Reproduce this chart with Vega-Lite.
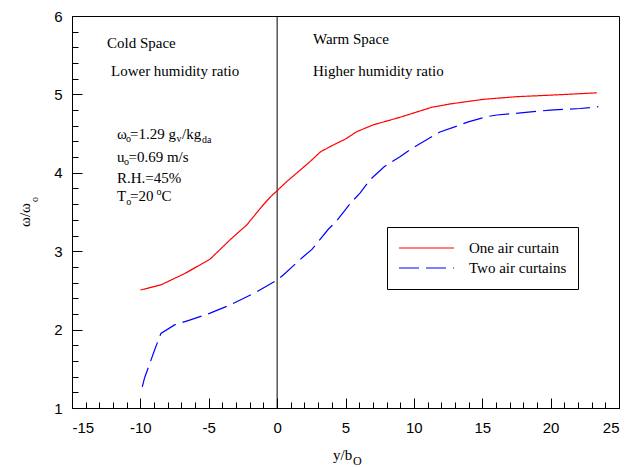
{
  "$schema": "https://vega.github.io/schema/vega-lite/v6.json",
  "width": 547,
  "height": 392,
  "autosize": {"type": "none"},
  "padding": {"left": 72, "top": 16, "right": 14, "bottom": 60},
  "background": "white",
  "config": {
    "view": {"stroke": "black", "strokeWidth": 1},
    "axis": {
      "domainColor": "black", "domainWidth": 1, "tickColor": "black", "tickWidth": 1,
      "labelColor": "black", "labelFont": "Liberation Sans", "labelFontSize": 15,
      "grid": false, "title": null
    },
    "legend": {
      "orient": "none", "legendX": 315, "legendY": 211, "strokeColor": "black",
      "padding": 11, "symbolType": "stroke", "symbolSize": 3025, "clipHeight": 20,
      "labelOffset": 14, "rowPadding": 0, "labelFont": "Liberation Serif", "labelFontSize": 15,
      "labelColor": "black", "symbolStrokeWidth": 1.2, "title": null, "fillColor": "white"
    },
    "text": {"font": "Liberation Serif", "color": "black", "align": "left", "baseline": "alphabetic"}
  },
  "resolve": {"axis": {"x": "independent", "y": "independent"}},
  "layer": [
    {
      "data": {"values": [{"x": 0}]},
      "mark": {"type": "rule", "color": "black", "strokeWidth": 1},
      "encoding": {
        "x": {"field": "x", "type": "quantitative", "scale": {"domain": [-15, 25], "nice": false, "zero": false}, "axis": null}
      }
    },
    {
      "data": {"values": [
        {"series": "One air curtain", "x": -10, "y": 2.505},
        {"series": "One air curtain", "x": -8.5, "y": 2.57},
        {"series": "One air curtain", "x": -6.7, "y": 2.72},
        {"series": "One air curtain", "x": -4.9, "y": 2.9},
        {"series": "One air curtain", "x": -3.32, "y": 3.165},
        {"series": "One air curtain", "x": -2.225, "y": 3.334},
        {"series": "One air curtain", "x": -1.128, "y": 3.568},
        {"series": "One air curtain", "x": -0.52, "y": 3.688},
        {"series": "One air curtain", "x": 0, "y": 3.772},
        {"series": "One air curtain", "x": 0.7, "y": 3.887},
        {"series": "One air curtain", "x": 1.55, "y": 4.014},
        {"series": "One air curtain", "x": 2.4, "y": 4.142},
        {"series": "One air curtain", "x": 3.19, "y": 4.27},
        {"series": "One air curtain", "x": 4.11, "y": 4.355},
        {"series": "One air curtain", "x": 4.96, "y": 4.427},
        {"series": "One air curtain", "x": 5.82, "y": 4.524},
        {"series": "One air curtain", "x": 7.0, "y": 4.61},
        {"series": "One air curtain", "x": 8.985, "y": 4.708},
        {"series": "One air curtain", "x": 11.3, "y": 4.835},
        {"series": "One air curtain", "x": 12.64, "y": 4.878},
        {"series": "One air curtain", "x": 15.08, "y": 4.937},
        {"series": "One air curtain", "x": 17.52, "y": 4.971},
        {"series": "One air curtain", "x": 19.95, "y": 4.99},
        {"series": "One air curtain", "x": 23.37, "y": 5.02},
        {"series": "Two air curtains", "x": -9.86, "y": 1.27},
        {"series": "Two air curtains", "x": -9.7, "y": 1.38},
        {"series": "Two air curtains", "x": -8.96, "y": 1.74},
        {"series": "Two air curtains", "x": -8.5, "y": 1.95},
        {"series": "Two air curtains", "x": -7.5, "y": 2.06},
        {"series": "Two air curtains", "x": -6.4, "y": 2.12},
        {"series": "Two air curtains", "x": -4.9, "y": 2.21},
        {"series": "Two air curtains", "x": -3.5, "y": 2.31},
        {"series": "Two air curtains", "x": -1.545, "y": 2.476},
        {"series": "Two air curtains", "x": -0.08, "y": 2.624},
        {"series": "Two air curtains", "x": 0.45, "y": 2.696},
        {"series": "Two air curtains", "x": 1.91, "y": 2.93},
        {"series": "Two air curtains", "x": 2.53, "y": 3.02},
        {"series": "Two air curtains", "x": 3.74, "y": 3.28},
        {"series": "Two air curtains", "x": 4.31, "y": 3.376},
        {"series": "Two air curtains", "x": 5.45, "y": 3.63},
        {"series": "Two air curtains", "x": 6.06, "y": 3.74},
        {"series": "Two air curtains", "x": 6.79, "y": 3.91},
        {"series": "Two air curtains", "x": 7.85, "y": 4.08},
        {"series": "Two air curtains", "x": 8.985, "y": 4.205},
        {"series": "Two air curtains", "x": 9.84, "y": 4.31},
        {"series": "Two air curtains", "x": 11.3, "y": 4.46},
        {"series": "Two air curtains", "x": 11.91, "y": 4.52},
        {"series": "Two air curtains", "x": 13.37, "y": 4.61},
        {"series": "Two air curtains", "x": 13.98, "y": 4.65},
        {"series": "Two air curtains", "x": 15.33, "y": 4.716},
        {"series": "Two air curtains", "x": 16.06, "y": 4.737},
        {"series": "Two air curtains", "x": 18.0, "y": 4.767},
        {"series": "Two air curtains", "x": 19.95, "y": 4.8},
        {"series": "Two air curtains", "x": 22.15, "y": 4.82},
        {"series": "Two air curtains", "x": 23.49, "y": 4.843}
      ]},
      "mark": {"type": "line", "strokeWidth": 1.2},
      "encoding": {
        "x": {"field": "x", "type": "quantitative", "scale": {"domain": [-15, 25], "nice": false, "zero": false},
              "axis": {"orient": "bottom", "values": [-15, -10, -5, 0, 5, 10, 15, 20, 25], "tickSize": -10, "labelPadding": 22, "labelExpr": "datum.value + ''"}},
        "y": {"field": "y", "type": "quantitative", "scale": {"domain": [1, 6], "nice": false, "zero": false},
              "axis": {"orient": "left", "values": [1, 2, 3, 4, 5, 6], "tickSize": -10, "labelPadding": 20, "labelExpr": "datum.value + ''"}},
        "color": {"field": "series", "type": "nominal", "scale": {"domain": ["One air curtain", "Two air curtains"], "range": ["#ff0000", "#0000ff"]}},
        "strokeDash": {"field": "series", "type": "nominal", "scale": {"domain": ["One air curtain", "Two air curtains"], "range": [[1, 0], [20, 7]]}}
      }
    },
    {
      "data": {"values": [
        {"x": -12.44, "y": 5.598, "t": "Cold Space"},
        {"x": -12.15, "y": 5.235, "t": "Lower humidity ratio"},
        {"x": 2.62, "y": 5.649, "t": "Warm Space"},
        {"x": 2.62, "y": 5.235, "t": "Higher humidity ratio"},
        {"x": -11.71, "y": 4.431, "t": "ω"},
        {"x": -10.76, "y": 4.431, "t": "=1.29 g"},
        {"x": -6.956, "y": 4.431, "t": "/kg"},
        {"x": -11.71, "y": 4.144, "t": "u"},
        {"x": -10.87, "y": 4.144, "t": "=0.69 m/s"},
        {"x": -11.71, "y": 3.87, "t": "R.H.=45%"},
        {"x": -11.71, "y": 3.634, "t": "T"},
        {"x": -10.76, "y": 3.634, "t": "=20"},
        {"x": -8.45, "y": 3.634, "t": "C"},
        {"x": 4.086, "y": 0.337, "t": "y/b"}
      ]},
      "mark": {"type": "text", "fontSize": 15},
      "encoding": {
        "x": {"field": "x", "type": "quantitative", "scale": {"domain": [-15, 25], "nice": false, "zero": false},
              "axis": {"orient": "bottom", "values": [-14, -13, -12, -11, -9, -8, -7, -6, -4, -3, -2, -1, 1, 2, 3, 4, 6, 7, 8, 9, 11, 12, 13, 14, 16, 17, 18, 19, 21, 22, 23, 24], "tickSize": -6, "labels": false, "domain": false}},
        "y": {"field": "y", "type": "quantitative", "scale": {"domain": [1, 6], "nice": false, "zero": false},
              "axis": {"orient": "left", "values": [1.2, 1.4, 1.6, 1.8, 2.2, 2.4, 2.6, 2.8, 3.2, 3.4, 3.6, 3.8, 4.2, 4.4, 4.6, 4.8, 5.2, 5.4, 5.6, 5.8], "tickSize": -6, "labels": false, "domain": false}},
        "text": {"field": "t"}
      }
    },
    {
      "data": {"values": [
        {"x": -11.05, "y": 4.393, "t": "o"},
        {"x": -7.358, "y": 4.393, "t": "v"},
        {"x": -5.494, "y": 4.38, "t": "da"},
        {"x": -11.197, "y": 4.099, "t": "o"},
        {"x": -11.03, "y": 3.589, "t": "o"},
        {"x": -8.82, "y": 3.717, "t": "o"}
      ]},
      "mark": {"type": "text", "fontSize": 10},
      "encoding": {
        "x": {"field": "x", "type": "quantitative", "scale": {"domain": [-15, 25], "nice": false, "zero": false}, "axis": null},
        "y": {"field": "y", "type": "quantitative", "scale": {"domain": [1, 6], "nice": false, "zero": false}, "axis": null},
        "text": {"field": "t"}
      }
    },
    {
      "data": {"values": [{"x": 5.549, "y": 0.279, "t": "O"}]},
      "mark": {"type": "text", "fontSize": 12},
      "encoding": {
        "x": {"field": "x", "type": "quantitative", "scale": {"domain": [-15, 25], "nice": false, "zero": false}, "axis": null},
        "y": {"field": "y", "type": "quantitative", "scale": {"domain": [1, 6], "nice": false, "zero": false}, "axis": null},
        "text": {"field": "t"}
      }
    },
    {
      "data": {"values": [{"x": -18.071, "y": 3.309, "t": "ω/ω"}]},
      "mark": {"type": "text", "fontSize": 15, "angle": 270},
      "encoding": {
        "x": {"field": "x", "type": "quantitative", "scale": {"domain": [-15, 25], "nice": false, "zero": false}, "axis": null},
        "y": {"field": "y", "type": "quantitative", "scale": {"domain": [1, 6], "nice": false, "zero": false}, "axis": null},
        "text": {"field": "t"}
      }
    },
    {
      "data": {"values": [{"x": -17.486, "y": 3.628, "t": "o"}]},
      "mark": {"type": "text", "fontSize": 10, "angle": 270},
      "encoding": {
        "x": {"field": "x", "type": "quantitative", "scale": {"domain": [-15, 25], "nice": false, "zero": false}, "axis": null},
        "y": {"field": "y", "type": "quantitative", "scale": {"domain": [1, 6], "nice": false, "zero": false}, "axis": null},
        "text": {"field": "t"}
      }
    }
  ]
}
